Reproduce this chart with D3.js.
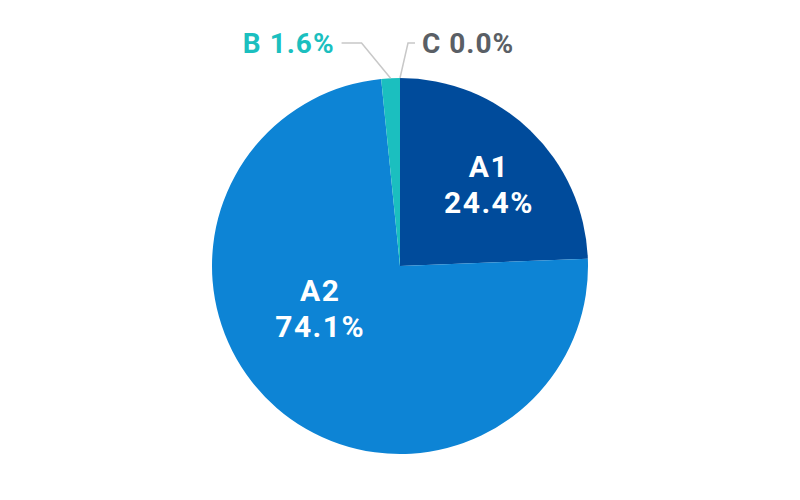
<!DOCTYPE html>
<html>
<head>
<meta charset="utf-8">
<script src="https://cdn.jsdelivr.net/npm/d3@7"></script>
<style>
  body { margin: 0; background: #fff; }
  text { font-family: Roboto, "Noto Sans", sans-serif; font-weight: bold; }
</style>
</head>
<body>
<div id="chart"></div>
<script>
// chart data
const names = ['A1', 'A2', 'B', 'C']
const values = [24.4, 74.1, 1.6, 0.0]
const colors = ['#004b9b', '#0d84d5', '#1bbfbf', '#5a5f66']
// which slices get an outside label
const outside = [false, false, true, true]

const width = 800
const height = 500
const cx = 400
const cy = 266
const radius = 188

const svg = d3.select('#chart')
	.append('svg')
	.attr('width', width)
	.attr('height', height)

const g = svg.append('g')
	.attr('transform', `translate(${cx},${cy})`)

const data = names.map((n, i) => ({ name: n, value: values[i], color: colors[i], outside: outside[i] }))

const pie = d3.pie()
	.sort(null)
	.value(d => d.value)

const arcs = pie(data)

const arc = d3.arc()
	.innerRadius(0)
	.outerRadius(radius)

g.selectAll('path.slice')
	.data(arcs)
	.enter()
	.append('path')
	.attr('class', 'slice')
	.attr('d', arc)
	.attr('fill', d => d.data.color)

// inside labels - nudged a bit like the original layout
const insideNudge = { A1: [0.642, 0.063], A2: [0.48, 0.37] }
const inside = arcs.filter(d => !d.data.outside)

const inLabel = g.selectAll('text.inside')
	.data(inside)
	.enter()
	.append('text')
	.attr('class', 'inside')
	.attr('fill', '#fff')
	.attr('font-size', 30)
	.attr('letter-spacing', 1.5)
	.attr('text-anchor', 'middle')
	.attr('transform', d => {
		const [k, da] = insideNudge[d.data.name]
		const a = (d.startAngle + d.endAngle) / 2 + da
		return `translate(${Math.sin(a) * radius * k},${-Math.cos(a) * radius * k})`
	})

inLabel.append('tspan')
	.attr('x', 0)
	.attr('y', -7)
	.text(d => d.data.name)

inLabel.append('tspan')
	.attr('x', 0)
	.attr('y', 29)
	.text(d => `${d.data.value.toFixed(1)}%`)

// outside labels with leader lines
const outArcs = arcs.filter(d => d.data.outside)
const elbowShift = { B: -29, C: 8 }
const lineY = -radius - 35

outArcs.forEach(d => {
	const a = (d.startAngle + d.endAngle) / 2
	const sx = Math.sin(a) * radius
	const sy = -Math.cos(a) * radius
	const side = elbowShift[d.data.name] < 0 ? -1 : 1
	const ex = sx + elbowShift[d.data.name]
	const tx = ex + side * (d.data.name === 'B' ? 20 : 7)

	g.append('polyline')
		.attr('points', [[sx, sy], [ex, lineY], [tx, lineY]].map(p => p.join(',')).join(' '))
		.attr('fill', 'none')
		.attr('stroke', '#c8c8c8')
		.attr('stroke-width', 1.5)

	g.append('text')
		.attr('x', tx + side * 7)
		.attr('y', lineY + 10)
		.attr('font-size', 28)
		.attr('letter-spacing', 1)
		.attr('text-anchor', side < 0 ? 'end' : 'start')
		.attr('fill', d.data.color)
		.text(`${d.data.name} ${d.data.value.toFixed(1)}%`)
})
</script>
</body>
</html>
